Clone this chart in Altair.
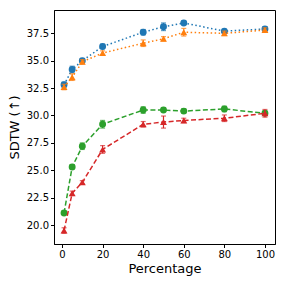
import altair as alt
import pandas as pd

percent = [1, 5, 10, 20, 40, 50, 60, 80, 100]
series_names = ["A", "B", "C", "D"]
means = {
    "A": [32.8, 34.2, 35.0, 36.3, 37.6, 38.1, 38.45, 37.7, 37.9],
    "B": [32.6, 33.5, 34.9, 35.7, 36.6, 37.0, 37.6, 37.5, 37.8],
    "C": [21.1, 25.3, 27.2, 29.2, 30.5, 30.5, 30.4, 30.6, 30.2],
    "D": [19.5, 22.9, 23.9, 26.9, 29.2, 29.4, 29.55, 29.75, 30.2],
}
errors = {
    "A": [0.25, 0.3, 0.2, 0.2, 0.25, 0.35, 0.15, 0.15, 0.2],
    "B": [0.25, 0.3, 0.2, 0.2, 0.3, 0.2, 0.35, 0.2, 0.2],
    "C": [0.15, 0.2, 0.3, 0.35, 0.3, 0.15, 0.2, 0.25, 0.2],
    "D": [0.25, 0.2, 0.15, 0.35, 0.25, 0.55, 0.2, 0.3, 0.35],
}
x_ticks = [0, 20, 40, 60, 80, 100]
y_ticks = [20.0, 22.5, 25.0, 27.5, 30.0, 32.5, 35.0, 37.5]
colors = {"A": "#1f77b4", "B": "#ff7f0e", "C": "#2ca02c", "D": "#d62728"}
shapes = {"A": "circle", "B": "triangle-up", "C": "circle", "D": "triangle-up"}
dashes = {"A": [1.5, 2.5], "B": [1.5, 2.5], "C": [5, 2.5], "D": [5, 2.5]}

rows = []
for s in series_names:
    for p, m, e in zip(percent, means[s], errors[s]):
        rows.append({"series": s, "pct": p, "val": m, "lo": m - e, "hi": m + e})
df = pd.DataFrame(rows)

xs = alt.Scale(domain=[-3.95, 104.95], nice=False, zero=False)
ys = alt.Scale(domain=[18.27, 39.63], nice=False, zero=False)
xaxis = alt.Axis(values=x_ticks, grid=False, labelOverlap=False, labelBound=False)
yaxis = alt.Axis(values=y_ticks, format=".1f", grid=False, labelOverlap=False, labelBound=False)

X = alt.X("pct:Q", scale=xs, title="Percentage", axis=xaxis)
Yv = alt.Y("val:Q", scale=ys, title="SDTW (↑)", axis=yaxis)
Ylo = alt.Y("lo:Q", scale=ys, title="SDTW (↑)", axis=yaxis)
Yhi = alt.Y("hi:Q", scale=ys, title="SDTW (↑)", axis=yaxis)

layers = []
for s in series_names:
    d = df[df.series == s]
    base = alt.Chart(d)
    line = base.mark_line(color=colors[s], strokeWidth=1.5, strokeDash=dashes[s]).encode(x=X, y=Yv)
    rule = base.mark_rule(color=colors[s], strokeWidth=1.2).encode(x=X, y=Ylo, y2="hi:Q")
    cap_lo = base.mark_tick(color=colors[s], orient="horizontal", size=5, thickness=1.2).encode(x=X, y=Ylo)
    cap_hi = base.mark_tick(color=colors[s], orient="horizontal", size=5, thickness=1.2).encode(x=X, y=Yhi)
    pts = base.mark_point(color=colors[s], filled=True, opacity=1, shape=shapes[s], size=48).encode(x=X, y=Yv)
    layers += [line, rule, cap_lo, cap_hi, pts]

chart = alt.layer(*layers).properties(
    width=221, height=234,
    autosize=alt.AutoSizeParams(type="none"),
    padding={"left": 46, "top": 2, "right": 3, "bottom": 34},
).configure_view(stroke="black", strokeWidth=1).configure_axis(
    domainColor="black", tickColor="black", labelColor="black", titleColor="black",
    labelFont="DejaVu Sans", titleFont="DejaVu Sans", labelFontSize=10,
    titleFontSize=13, titleFontWeight="normal", tickSize=3.5, domainWidth=1,
    labelPadding=2, labelOverlap=False,
).configure_axisY(titlePadding=5).configure_axisX(titlePadding=3)

chart.save("out.html", embed_options={"renderer": "svg", "actions": False})
